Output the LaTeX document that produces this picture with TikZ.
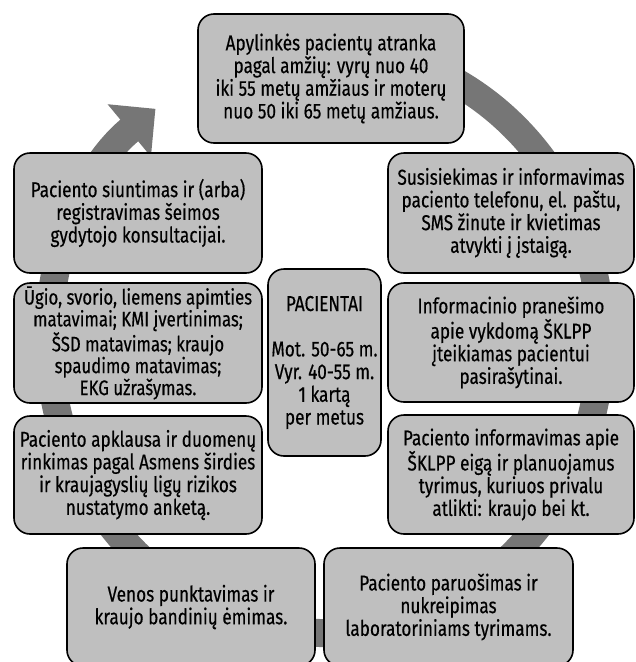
\documentclass[tikz,border=0pt]{standalone}
\usepackage{fontspec}
\setmainfont{Fira Sans}
\newfontfamily\boxfont{Fira Sans}[FakeStretch=0.80,FakeBold=0.4]
\usepackage{tikz}
\usetikzlibrary{arrows.meta}
\definecolor{boxgray}{RGB}{191,191,191}
\definecolor{ringgray}{RGB}{118,118,118}
\tikzset{
  stage/.style={
    rectangle,
    rounded corners=16pt,
    draw=black, line width=1.6pt,
    fill=boxgray,
    align=center,
    inner sep=0pt,
    font=\boxfont\fontsize{21.5}{22.7}\selectfont},
  tight/.style={font=\boxfont\fontsize{21}{20.5}\selectfont},
}

\begin{document}
\begin{tikzpicture}[
    x=1pt, y=1pt,
    ring/.style={draw=ringgray, line width=28pt,
      -{Triangle[width=66pt,length=34pt]}},
    ]
    \useasboundingbox (0,0) rectangle (636,-662);

    % cycle arrow behind the boxes
    \draw[ring] (325,-340) ++(100:276 and 293)
         arc[start angle=100, end angle=-232.1, x radius=276, y radius=293];

    % steps, clockwise from the top
    \node[stage, minimum width=266pt, minimum height=129pt] (atranka) at (331,-78.5)
         {Apylinkės pacientų atranka\\pagal amžių: vyrų nuo 40\\iki 55 metų amžiaus ir moterų\\nuo 50 iki 65 metų amžiaus.};
    \node[stage, minimum width=246pt, minimum height=120pt] (susisiekimas) at (511,-213)
         {Susisiekimas ir informavimas\\paciento telefonu, el. paštu,\\SMS žinute ir kvietimas\\atvykti į įstaigą.};
    \node[stage, minimum width=246pt, minimum height=119pt] (pranesimas) at (511,-342.5)
         {Informacinio pranešimo\\apie vykdomą ŠKLPP\\įteikiamas pacientui\\pasirašytinai.};
    \node[stage, minimum width=246pt, minimum height=119pt] (eiga) at (511,-474.5)
         {Paciento informavimas apie\\ŠKLPP eigą ir planuojamus\\tyrimus, kuriuos privalu\\atlikti: kraujo bei kt.};
    \node[stage, minimum width=249pt, minimum height=118pt] (paruosimas) at (448.5,-607)
         {Paciento paruošimas ir\\nukreipimas\\laboratoriniams tyrimams.};
    \node[stage, minimum width=248pt, minimum height=118pt] (venos) at (191,-607)
         {Venos punktavimas ir\\kraujo bandinių ėmimas.};
    \node[stage, minimum width=248pt, minimum height=118pt] (apklausa) at (138,-475)
         {Paciento apklausa ir duomenų\\rinkimas pagal Asmens širdies\\ir kraujagyslių ligų rizikos\\nustatymo anketą.};
    \node[stage, tight, minimum width=248pt, minimum height=120pt] (matavimai) at (138,-343)
         {Ūgio, svorio, liemens apimties\\matavimai; KMI įvertinimas;\\ŠSD matavimas; kraujo\\spaudimo matavimas;\\EKG užrašymas.};
    \node[stage, minimum width=248pt, minimum height=120pt] (siuntimas) at (138,-213)
         {Paciento siuntimas ir (arba)\\registravimas šeimos\\gydytojo konsultacijai.};

    % centre
    \node[stage, minimum width=113pt, minimum height=187pt] (pacientai) at (324.5,-362.5)
         {PACIENTAI\\[22.7pt]Mot. 50-65 m.\\Vyr. 40-55 m.\\1 kartą\\per metus};

\end{tikzpicture}
\end{document}
